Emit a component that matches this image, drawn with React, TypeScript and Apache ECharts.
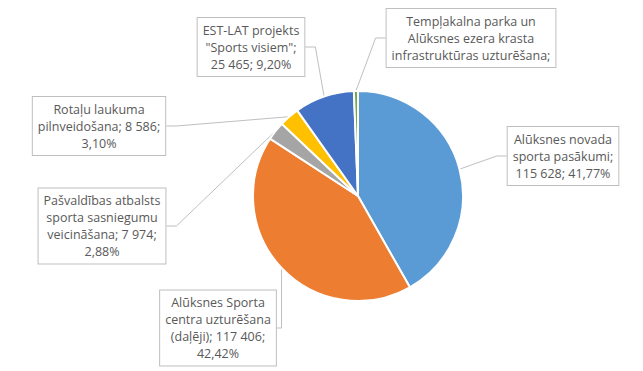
import React, { useEffect, useRef } from "react";
import * as echarts from "echarts";

const categories = [
  "Alūksnes novada sporta pasākumi",
  "Alūksnes Sporta centra uzturēšana (daļēji)",
  "Pašvaldības atbalsts sporta sasniegumu veicināšana",
  "Rotaļu laukuma pilnveidošana",
  "EST-LAT projekts \"Sports visiem\"",
  "Tempļakalna parka un Alūksnes ezera krasta infrastruktūras uzturēšana",
];
const values = [115628, 117406, 7974, 8586, 25465, 1736];
const colors = ["#5B9BD5", "#ED7D31", "#A5A5A5", "#FFC000", "#4472C4", "#70AD47"];
// label text wrap width (characters) and label centre positions
const wrapChars = [16, 18, 20, 21, 16, 27];
const labelPos: [number, number][] = [
  [563, 156],
  [218, 328],
  [102, 226],
  [99, 126],
  [251, 47],
  [471, 38],
];
const showValue = [true, true, true, true, true, false];

const total = values.reduce((a, b) => a + b, 0);
const NB = "\u00A0";
const fmtNum = (v: number) =>
  String(v).replace(/\B(?=(\d{3})+(?!\d))/g, NB);
const fmtPct = (v: number) => ((v / total) * 100).toFixed(2).replace(".", ",") + "%";

function wrap(text: string, max: number): string {
  const words = text.split(" ");
  const lines: string[] = [];
  let cur = "";
  for (const w of words) {
    if (!cur) cur = w;
    else if ((cur + " " + w).length <= max) cur += " " + w;
    else {
      lines.push(cur);
      cur = w;
    }
  }
  if (cur) lines.push(cur);
  return lines.join("\n").replace(/\u00A0/g, " ");
}

export default function App() {
  const ref = useRef<HTMLDivElement>(null);
  useEffect(() => {
    if (!ref.current) return;
    const chart = echarts.init(ref.current, undefined, { renderer: "svg" });
    chart.setOption({
      animation: false,
      backgroundColor: "#ffffff",
      series: [
        {
          type: "pie",
          center: [358, 196],
          radius: 105,
          startAngle: 90,
          clockwise: true,
          avoidLabelOverlap: false,
          itemStyle: { borderColor: "#ffffff", borderWidth: 2 },
          label: {
            show: true,
            position: "outside",
            fontFamily: "Open Sans",
            fontSize: 12.5,
            lineHeight: 17,
            color: "#595959",
            align: "center",
            backgroundColor: "#ffffff",
            borderColor: "#bfbfbf",
            borderWidth: 1,
            padding: [4, 5, 3, 5],
            formatter: (p: any) => {
              const i = p.dataIndex;
              const full = showValue[i]
                ? `${p.name}; ${fmtNum(p.value)}; ${fmtPct(p.value)}`
                : `${p.name};`;
              return wrap(full, wrapChars[i]);
            },
          },
          labelLine: {
            show: true,
            length: 10,
            length2: 10,
            lineStyle: { color: "#bfbfbf", width: 1 },
          },
          labelLayout: (params: any) => {
            const pos = labelPos[params.dataIndex];
            return {
              x: pos[0],
              y: pos[1],
              align: "center",
              verticalAlign: "middle",
            };
          },
          data: categories.map((name, i) => ({
            name,
            value: values[i],
            itemStyle: { color: colors[i] },
          })),
        },
      ],
    });
    return () => chart.dispose();
  }, []);
  return (
    <div
      ref={ref}
      style={{ position: "absolute", left: 0, top: 0, width: 643, height: 371 }}
    />
  );
}
